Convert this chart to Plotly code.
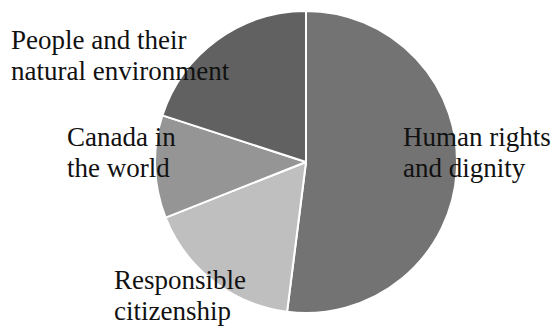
import plotly.graph_objects as go

categories = ["Human rights<br>and dignity", "Responsible<br>citizenship",
              "Canada in<br>the world", "People and their<br>natural environment"]
values = [52, 17, 11, 20]
colors = ["#737373", "#bfbfbf", "#959595", "#616161"]

W, H = 553, 328

fig = go.Figure(go.Pie(
    labels=[c.replace("<br>", " ") for c in categories],
    values=values,
    sort=False,
    direction="clockwise",
    rotation=0,
    marker=dict(colors=colors, line=dict(color="white", width=2)),
    textinfo="none",
    hoverinfo="label+percent",
    showlegend=False,
    domain=dict(x=[155 / W, 457 / W], y=[(H - 313) / H, (H - 11) / H]),
))

# label placement (left x in px, centre y of first line in px)
label_pos = [(401, 137), (112, 280), (65, 137), (9, 40)]
line_gap = 31
for cat, (lx, ly) in zip(categories, label_pos):
    for i, line in enumerate(cat.split("<br>")):
        fig.add_annotation(
            x=lx / W, y=1 - (ly + i * line_gap) / H,
            xref="paper", yref="paper",
            text=line, showarrow=False,
            xanchor="left", yanchor="middle", align="left",
            font=dict(family="Liberation Serif", size=27, color="#111111"),
        )

fig.update_layout(
    width=W, height=H,
    margin=dict(l=0, r=0, t=0, b=0),
    paper_bgcolor="white", plot_bgcolor="white",
)

fig.write_html("out.html", config={"displayModeBar": False},
               post_script="document.body.style.margin='0';document.body.style.overflow='hidden';")
